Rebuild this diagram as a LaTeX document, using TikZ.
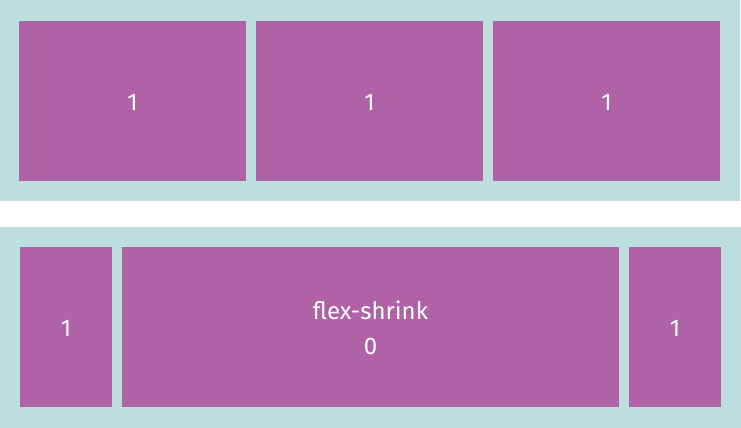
\documentclass[tikz,border=0pt]{standalone}
\usepackage{fontspec}
\setmainfont{Fira Sans}
\definecolor{teal1}{RGB}{188,222,222}
\definecolor{purp}{RGB}{175,99,166}
\begin{document}
\begin{tikzpicture}[x=1pt,y=-1pt,
  cont/.style={fill=teal1},
  item/.style={fill=purp},
  lbl/.style={text=white,font=\fontsize{24}{35}\selectfont,align=center,inner sep=0pt}]
\useasboundingbox (0,0) rectangle (741,428);
\fill[cont] (0,0) rectangle (740,201);
\fill[cont] (0,227) rectangle (741,428);
% top row
\fill[item] (19,21) rectangle (246,181);
\fill[item] (256,21) rectangle (483,181);
\fill[item] (493,21) rectangle (720,181);
\node[lbl] (t1) at (132.5,102) {1};
\node[lbl] (t2) at (369.5,102) {1};
\node[lbl] (t3) at (606.5,102) {1};
% bottom row
\fill[item] (20,247) rectangle (112,407);
\fill[item] (122,247) rectangle (619,407);
\fill[item] (629,247) rectangle (721,407);
\node[lbl] (b1) at (66,328) {1};
\node[lbl] (b2) at (370.5,328) {flex-shrink\\0};
\node[lbl] (b3) at (675,328) {1};
\end{tikzpicture}
\end{document}
